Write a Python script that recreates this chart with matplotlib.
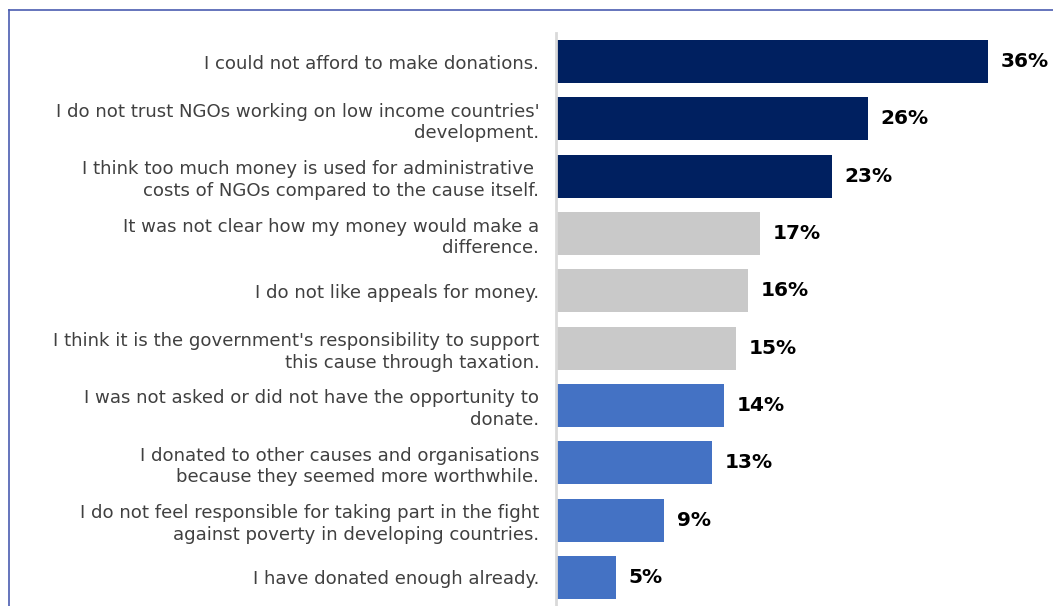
import matplotlib.pyplot as plt
from matplotlib.lines import Line2D

reasons = [
    "I could not afford to make donations.",
    "I do not trust NGOs working on low income countries'\ndevelopment.",
    "I think too much money is used for administrative \ncosts of NGOs compared to the cause itself.",
    "It was not clear how my money would make a\ndifference.",
    "I do not like appeals for money.",
    "I think it is the government's responsibility to support\nthis cause through taxation.",
    "I was not asked or did not have the opportunity to\ndonate.",
    "I donated to other causes and organisations\nbecause they seemed more worthwhile.",
    "I do not feel responsible for taking part in the fight\nagainst poverty in developing countries.",
    "I have donated enough already.",
]
shares = [36, 26, 23, 17, 16, 15, 14, 13, 9, 5]
groups = ["top", "top", "top", "mid", "mid", "mid", "low", "low", "low", "low"]

group_colors = {"top": "#002060", "mid": "#c9c9c9", "low": "#4472c4"}

plt.rcParams['font.family'] = ['DejaVu Sans']

fig = plt.figure(figsize=(10.53, 6.06), dpi=100)
ax = fig.add_axes([556 / 1053, 0, 497 / 1053, 573 / 606])

ypos = list(range(len(reasons)))
ax.barh(ypos, shares, height=0.75,
        color=[group_colors[g] for g in groups], zorder=2)

for y, v in zip(ypos, shares):
    ax.text(v + 1.05, y, f"{v}%", va='center', ha='left',
            fontsize=14.5, fontweight='bold', color='black')

ax.set_ylim(9.5, -0.5)
ax.set_xlim(0, 41.4)
ax.set_yticks(ypos)
ax.set_yticklabels(reasons, fontsize=13.1, color='#404040', linespacing=1.25)
ax.tick_params(axis='y', length=0, pad=12)
ax.set_xticks([])

for side in ['top', 'right', 'bottom']:
    ax.spines[side].set_visible(False)
ax.spines['left'].set_color('#d9d9d9')
ax.spines['left'].set_linewidth(2)

# outer frame, only top and left edges are visible
frame = '#4a5cb0'
fig.add_artist(Line2D([9 / 1053, 1], [1 - 10 / 606, 1 - 10 / 606],
                      transform=fig.transFigure, color=frame, lw=1.2))
fig.add_artist(Line2D([9 / 1053, 9 / 1053], [0, 1 - 10 / 606],
                      transform=fig.transFigure, color=frame, lw=1.2))

fig.savefig('out.png', dpi=100)
